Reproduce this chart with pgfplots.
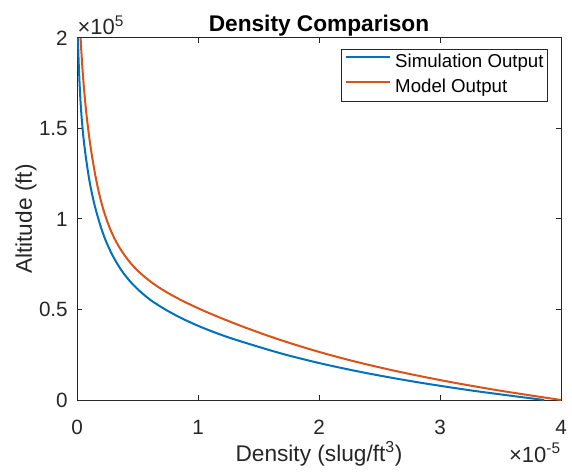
\documentclass[border=0pt]{standalone}
\usepackage{pgfplots}
\pgfplotsset{compat=1.18}
\usepackage{fontspec}
\setmainfont{Liberation Sans}
\definecolor{mblue}{rgb}{0,0.447,0.741}
\definecolor{morange}{rgb}{0.85,0.325,0.098}
\definecolor{mgray}{rgb}{0.15,0.15,0.15}
\begin{document}
\begin{tikzpicture}
\begin{axis}[
 name=ax,
 scale only axis, width=363pt, height=271.5pt,
 xmin=0, xmax=4e-5, ymin=0, ymax=2e5,
 xtick={0,1e-5,2e-5,3e-5,4e-5},
 ytick={0,50000,100000,150000,200000},
 scaled x ticks=base 10:5,
 scaled y ticks=base 10:-5,
 xtick scale label code/.code={×10\textsuperscript{-5}},
 ytick scale label code/.code={×10\textsuperscript{5}},
 every x tick scale label/.style={at={(rel axis cs:1,0)}, anchor=base east, inner sep=0pt, yshift=-31.5pt, font=\fontsize{16.5}{19}\selectfont, text=mgray},
 every y tick scale label/.style={at={(rel axis cs:0,1)}, anchor=base west, inner sep=0pt, xshift=7pt, yshift=2.25pt, font=\fontsize{16.5}{19}\selectfont, text=mgray},
 /pgf/number format/assume math mode=true,
 tick label style={font=\fontsize{15.5}{18}\selectfont, text=mgray, inner sep=0pt},
 xticklabel style={anchor=north, yshift=-15pt, /pgf/number format/fixed},
 yticklabel style={anchor=east, xshift=-6.75pt, /pgf/number format/fixed},
 axis line style={mgray, line width=0.75pt},
 tick style={mgray, line width=0.75pt},
 major tick length=3.6pt,
 tick align=inside,
 tick pos=both,
 title={Density Comparison},
 title style={at={(0.5,1)}, anchor=base, yshift=-1.5pt, font=\fontsize{17}{20}\selectfont\bfseries, inner sep=0pt},
 xlabel={Density (slug/ft\textsuperscript{3})},
 xlabel style={at={(axis description cs:0.5,0)}, anchor=base, yshift=-45.75pt, font=\fontsize{17}{20}\selectfont, inner sep=0pt, text=mgray},
 ylabel={Altitude (ft)},
 ylabel style={at={(axis description cs:-0.093,0.5)}, anchor=base, font=\fontsize{17}{20}\selectfont, inner sep=0pt, text=mgray},
 legend style={at={(0.9731,0.9696)}, anchor=north east, draw=mgray, line width=0.6pt, fill=white,
   font=\fontsize{14}{16}\selectfont, inner xsep=3pt, inner ysep=3.6pt, row sep=5.75pt,
   nodes={inner sep=0pt, text height=10pt, text depth=3pt, text=black},
   /tikz/every odd column/.append style={column sep=3pt}},
 legend cell align=left,
 legend image code/.code={\draw[#1,line width=1.5pt] (0pt,4.5pt) -- (33pt,4.5pt);},
]
\addplot[mblue, line width=1.5pt, smooth, tension=0.5] coordinates {
(3.862e-5,0) (3.287e-5,5000) (2.798e-5,10000) (2.382e-5,15000) (2.028e-5,20000)
(1.726e-5,25000) (1.470e-5,30000) (1.234e-5,35000) (1.036e-5,40000) (0.869e-5,45000)
(0.730e-5,50000) (0.613e-5,55000) (0.521e-5,60000) (0.446e-5,65000) (0.385e-5,70000)
(0.335e-5,75000) (0.293e-5,80000) (0.257e-5,85000) (0.226e-5,90000) (0.200e-5,95000)
(0.177e-5,100000) (0.1558e-5,105000) (0.137e-5,110000) (0.1206e-5,115000) (0.106e-5,120000)
(0.0932e-5,125000) (0.082e-5,130000) (0.0713e-5,135000) (0.062e-5,140000) (0.0534e-5,145000)
(0.046e-5,150000) (0.0396e-5,155000) (0.034e-5,160000) (0.0291e-5,165000) (0.025e-5,170000)
(0.0212e-5,175000) (0.018e-5,180000) (0.0147e-5,185000) (0.012e-5,190000) (0.0098e-5,195000)
(0.008e-5,200000)
};
\addlegendentry{Simulation Output}
\addplot[morange, line width=1.5pt, smooth, tension=0.5] coordinates {
(4.0e-5,0) (3.511e-5,5000) (3.081e-5,10000) (2.705e-5,15000) (2.374e-5,20000)
(2.084e-5,25000) (1.829e-5,30000) (1.600e-5,35000) (1.392e-5,40000) (1.200e-5,45000)
(1.024e-5,50000) (0.866e-5,55000) (0.729e-5,60000) (0.616e-5,65000) (0.525e-5,70000)
(0.451e-5,75000) (0.393e-5,80000) (0.344e-5,85000) (0.304e-5,90000) (0.271e-5,95000)
(0.243e-5,100000) (0.2187e-5,105000) (0.1979e-5,110000) (0.1797e-5,115000) (0.1636e-5,120000)
(0.1490e-5,125000) (0.1358e-5,130000) (0.1233e-5,135000) (0.1120e-5,140000) (0.1014e-5,145000)
(0.0918e-5,150000) (0.0829e-5,155000) (0.0748e-5,160000) (0.0673e-5,165000) (0.0606e-5,170000)
(0.0542e-5,175000) (0.0485e-5,180000) (0.0431e-5,185000) (0.0383e-5,190000) (0.0338e-5,195000)
(0.0299e-5,200000)
};
\addlegendentry{Model Output}
\end{axis}
\pgfresetboundingbox
\path ([xshift=-57.75pt,yshift=-54.75pt]ax.south west) rectangle ([xshift=8.25pt,yshift=28.5pt]ax.north east);
\end{tikzpicture}
\end{document}
